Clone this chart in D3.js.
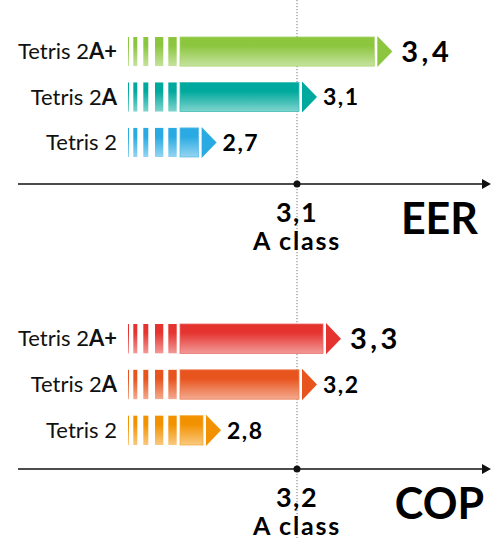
<!DOCTYPE html>
<html><head><meta charset="utf-8">
<script src="https://cdn.jsdelivr.net/npm/d3@7"></script>
<style>
html,body{margin:0;padding:0;background:#fff;}
svg{display:block;font-family:Lato, "Open Sans", sans-serif;}
</style></head>
<body>
<script>
// ---- data ----
const modelBase = ["Tetris 2", "Tetris 2", "Tetris 2"];
const modelSuffix = ["A+", "A", ""];
const eerValues = [3.4, 3.1, 2.7];
const copValues = [3.3, 3.2, 2.8];
const eerColors = ["#8cc63f", "#00a99d", "#29aae2"];
const copColors = ["#e53430", "#e8541e", "#f39200"];
const eerRef = 3.1, copRef = 3.2;
const refLabel = "A class";
const metricNames = ["EER", "COP"];
const valueFont = [29, 23, 23];

const W = 491, H = 538;
const svg = d3.select("body").append("svg").attr("width", W).attr("height", H);
const defs = svg.append("defs");

const fmt = v => d3.format(".1f")(v).replace(".", ",");
const refX = 297;
const barStart = 128;

function gradient(id, color) {
  const light = d3.interpolateRgb(color, "#ffffff")(0.5);
  const g = defs.append("linearGradient").attr("id", id)
    .attr("x1", 0).attr("x2", 0).attr("y1", 0).attr("y2", 1);
  g.append("stop").attr("offset", "0%").attr("stop-color", color);
  g.append("stop").attr("offset", "30%").attr("stop-color", color);
  g.append("stop").attr("offset", "100%").attr("stop-color", light);
}

function panel(opts) {
  const { values, colors, ref, name, rowY, axisY, slope, key, nameX } = opts;
  const x = d3.scaleLinear().domain([ref, ref + 1]).range([refX + 2, refX + 2 + slope]);
  const y = d3.scaleBand().domain(d3.range(values.length)).range(rowY).paddingInner(0.36).paddingOuter(0);
  const bh = y.bandwidth();
  const stripes = [[0, 1], [5.3, 4], [15.3, 5], [27, 8.3], [40.3, 8.4]];
  const mainOff = 52;

  values.forEach((v, i) => {
    const gid = key + "g" + i;
    gradient(gid, colors[i]);
    const g = svg.append("g");
    const top = y(i);
    const end = x(v);
    stripes.forEach(s => {
      g.append("rect").attr("x", barStart + s[0]).attr("y", top)
        .attr("width", s[1]).attr("height", bh).attr("fill", `url(#${gid})`);
    });
    g.append("rect").attr("x", barStart + mainOff).attr("y", top)
      .attr("width", Math.max(0, end - barStart - mainOff)).attr("height", bh)
      .attr("fill", `url(#${gid})`)
      .attr("stroke", d3.interpolateRgb(colors[i], "#fff")(0.25)).attr("stroke-width", 0.8);
    const cy = top + bh / 2;
    const ah = bh + 2;
    g.append("path")
      .attr("d", `M${end + 3},${cy - ah / 2}L${end + 18},${cy}L${end + 3},${cy + ah / 2}Z`)
      .attr("fill", colors[i]);
    const fs = valueFont[i];
    const big = fs > 25;
    g.append("text").attr("x", end + (big ? 27 : 24)).attr("y", cy + fs * 0.36)
      .attr("font-size", fs).attr("font-weight", 700)
      .attr("letter-spacing", big ? 3.5 : 1.5)
      .text(fmt(v));
    const lab = g.append("text").attr("x", 117).attr("y", cy + 7.5)
      .attr("text-anchor", "end").attr("font-size", 22).attr("fill", "#111");
    lab.append("tspan").text(modelBase[i]);
    if (modelSuffix[i]) lab.append("tspan").attr("font-weight", 700).text(modelSuffix[i]);
  });

  // axis
  svg.append("line").attr("x1", 18).attr("x2", 484).attr("y1", axisY).attr("y2", axisY)
    .attr("stroke", "#111").attr("stroke-width", 1.5);
  svg.append("path").attr("d", `M482,${axisY - 5}L491,${axisY}L482,${axisY + 5}Z`).attr("fill", "#111");
  svg.append("circle").attr("cx", x(ref) - 2).attr("cy", axisY).attr("r", 3.5).attr("fill", "#111");
  svg.append("text").attr("x", refX).attr("y", axisY + 38).attr("text-anchor", "middle")
    .attr("font-size", 27).attr("font-weight", 700).attr("letter-spacing", 1.5).text(fmt(ref));
  svg.append("text").attr("x", refX).attr("y", axisY + 66).attr("text-anchor", "middle")
    .attr("font-size", 25).attr("font-weight", 700).attr("letter-spacing", 1.8).text(refLabel);
  svg.append("text").attr("x", nameX).attr("y", axisY + 50).attr("text-anchor", "end")
    .attr("font-size", 43).attr("font-weight", 700).text(name);
}

// reference dotted line
svg.append("line").attr("x1", refX).attr("x2", refX).attr("y1", 0).attr("y2", H)
  .attr("stroke", "#777").attr("stroke-width", 1).attr("stroke-dasharray", "1.2,1.8");

panel({ values: eerValues, colors: eerColors, ref: eerRef, name: metricNames[0],
  rowY: [37, 157], axisY: 184, slope: 251, key: "e", nameX: 478 });
panel({ values: copValues, colors: copColors, ref: copRef, name: metricNames[1],
  rowY: [324, 445], axisY: 469, slope: 240, key: "c", nameX: 484 });
</script>
</body></html>
